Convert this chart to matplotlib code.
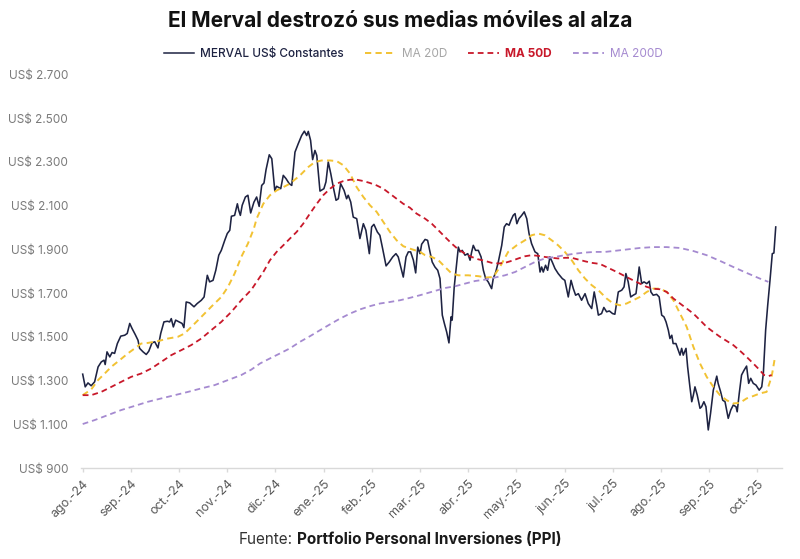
import matplotlib
matplotlib.use("Agg")
import matplotlib.pyplot as plt
from matplotlib.lines import Line2D
from matplotlib.ticker import FuncFormatter
import numpy as np

plt.rcParams['font.family'] = ['Inter', 'DejaVu Sans']

# ---------------- data ----------------
tick_labels = ["ago.-24", "sep.-24", "oct.-24", "nov.-24", "dic.-24", "ene.-25",
               "feb.-25", "mar.-25", "abr.-25", "may.-25", "jun.-25", "jul.-25",
               "ago.-25", "sep.-25", "oct.-25"]
days_per_tick = 21  # trading days between labelled ticks

merval_day = [
    0, 1.1, 2.3, 3.7, 5.2, 6.7, 8.1, 9.3, 9.8, 10.6,
    11.8, 12.8, 13.9, 15.1, 16.6, 18.3, 19.4, 20.5, 21.5, 22.9,
    24.1, 24.8, 26.3, 27.7, 28.8, 30.2, 31.4, 32.8, 34.0, 35.4,
    36.9, 37.9, 38.6, 39.5, 40.5, 42.0, 43.3, 44.1, 45.1, 46.6,
    48.5, 49.9, 51.7, 52.9, 54.3, 55.3, 56.8, 58.0, 59.3, 60.4,
    61.9, 63.0, 64.1, 64.8, 66.2, 67.4, 68.0, 68.7, 69.5, 70.9,
    72.0, 73.2, 74.6, 75.8, 76.9, 78.0, 79.0, 79.9, 81.3, 82.4,
    83.7, 84.5, 86.3, 87.4, 88.6, 90.0, 91.1, 92.5, 93.9, 95.4,
    96.6, 97.6, 98.3, 99.3, 100.2, 101.2, 102.0, 103.4, 105.1, 106.0,
    107.0, 108.1, 109.2, 110.4, 111.4, 112.4, 113.9, 115.0, 115.7, 116.8,
    117.9, 119.4, 120.8, 122.3, 123.4, 124.9, 125.9, 126.9, 128.4, 129.5,
    130.7, 132.2, 133.6, 135.1, 136.5, 137.5, 138.6, 139.7, 140.9, 141.9,
    142.9, 144.1, 145.1, 146.0, 147.0, 147.7, 149.2, 150.3, 151.3, 152.3,
    153.5, 154.7, 155.7, 156.7, 157.6, 158.6, 159.6, 160.5, 161.0, 161.9,
    162.9, 163.7, 164.4, 165.4, 166.6, 167.8, 168.8, 169.5, 170.2, 171.2,
    172.4, 173.6, 174.6, 175.6, 176.7, 178.2, 178.9, 180.0, 181.1, 182.6,
    183.7, 184.7, 185.8, 186.6, 187.6, 188.4, 189.2, 190.1, 191.3, 192.4,
    193.5, 194.5, 195.6, 197.1, 198.3, 199.3, 200.0, 200.7, 201.7, 202.6,
    203.6, 204.6, 205.8, 207.2, 209.0, 210.1, 211.6, 212.8, 213.8, 214.8,
    216.0, 217.4, 218.9, 220.3, 221.8, 222.9, 224.0, 224.7, 226.1, 227.1,
    228.3, 229.5, 230.9, 231.9, 233.4, 234.9, 235.9, 236.7, 237.7, 238.8,
    239.9, 241.1, 242.1, 242.5, 243.6, 244.6, 245.8, 246.9, 247.6, 248.6,
    250.1, 251.2, 252.3, 253.3, 254.2, 255.2, 255.9, 256.7, 257.3, 258.5,
    259.5, 260.3, 261.0, 261.7, 262.9, 263.6, 264.6, 265.4, 266.1, 266.8,
    267.8, 269.0, 269.7, 270.7, 271.6, 272.6, 273.6, 274.8, 276.3, 276.9,
    278.0, 278.9, 279.9, 281.3, 282.4, 283.5, 284.7, 285.2, 286.1, 287.1,
    288.2, 289.3, 290.2, 291.1, 292.2, 293.4, 294.8, 295.9, 296.6, 297.6,
    298.5, 299.5, 300.5, 301.2, 302.0]
merval_usd = [
    1329, 1271, 1289, 1276, 1294, 1362, 1385, 1393, 1373, 1431,
    1408, 1428, 1424, 1469, 1503, 1507, 1515, 1561, 1538, 1510,
    1484, 1447, 1431, 1419, 1434, 1472, 1477, 1449, 1515, 1568,
    1571, 1568, 1583, 1545, 1576, 1568, 1561, 1542, 1659, 1655,
    1637, 1652, 1667, 1682, 1781, 1751, 1758, 1804, 1873, 1895,
    1941, 1972, 1987, 2051, 2055, 2108, 2078, 2055, 2101, 2139,
    2147, 2066, 2115, 2139, 2096, 2192, 2203, 2264, 2332, 2314,
    2169, 2188, 2177, 2238, 2223, 2200, 2192, 2344, 2382, 2420,
    2440, 2420, 2439, 2398, 2310, 2352, 2329, 2166, 2177, 2208,
    2299, 2246, 2184, 2124, 2131, 2200, 2169, 2131, 2147, 2116,
    2047, 2040, 1949, 2017, 1987, 1880, 2002, 2014, 1979, 1964,
    1903, 1824, 1842, 1865, 1880, 1865, 1819, 1773, 1865, 1888,
    1888, 1850, 1792, 1910, 1880, 1923, 1945, 1941, 1890, 1842,
    1819, 1804, 1766, 1599, 1561, 1522, 1472, 1591, 1576, 1728,
    1827, 1910, 1888, 1895, 1873, 1880, 1850, 1888, 1918, 1895,
    1895, 1865, 1804, 1766, 1751, 1720, 1766, 1796, 1842, 1918,
    2002, 2017, 2010, 2032, 2055, 2063, 2017, 2040, 2055, 2071,
    2040, 1972, 1926, 1888, 1880, 1796, 1819, 1796, 1827, 1804,
    1865, 1842, 1812, 1789, 1766, 1758, 1682, 1758, 1720, 1690,
    1697, 1667, 1697, 1652, 1629, 1705, 1644, 1599, 1606, 1634,
    1614, 1618, 1606, 1603, 1705, 1713, 1728, 1789, 1751, 1682,
    1690, 1697, 1781, 1819, 1743, 1751, 1743, 1754, 1705, 1690,
    1694, 1682, 1599, 1591, 1568, 1530, 1492, 1507, 1469, 1469,
    1439, 1416, 1447, 1416, 1447, 1363, 1271, 1203, 1233, 1271,
    1233, 1173, 1180, 1203, 1180, 1074, 1150, 1256, 1320, 1287,
    1248, 1210, 1203, 1127, 1165, 1188, 1180, 1157, 1241, 1325,
    1347, 1366, 1287, 1310, 1287, 1279, 1256, 1271, 1332, 1530,
    1644, 1758, 1880, 1883, 2002]

ma20_day = [
    0, 3.7, 6.7, 9.6, 12.5, 16.1, 19.7, 22.7, 25.5, 28.5,
    32.8, 37.2, 41.5, 44.4, 48.1, 51.7, 56.0, 60.4, 63.3, 66.2,
    69.1, 72.0, 74.6, 75.8, 78.7, 81.6, 84.5, 87.4, 90.3, 94.7,
    98.3, 101.2, 104.1, 107.8, 110.7, 113.6, 116.5, 119.4, 122.3, 125.2,
    128.1, 131.0, 133.9, 136.8, 139.7, 142.6, 147.0, 149.2, 152.1, 155.0,
    157.9, 160.8, 163.7, 168.0, 172.4, 176.0, 178.9, 181.8, 185.4, 189.1,
    192.7, 195.6, 198.5, 201.4, 204.4, 207.2, 210.1, 213.1, 216.0, 218.9,
    221.8, 224.7, 228.3, 231.2, 234.1, 237.0, 239.9, 242.8, 245.8, 248.6,
    251.6, 254.5, 257.4, 260.3, 263.2, 266.1, 269.0, 271.9, 274.8, 277.7,
    280.6, 283.5, 286.4, 289.3, 292.2, 295.1, 298.0, 300.2, 301.7]
ma20_usd = [
    1233, 1259, 1302, 1332, 1363, 1393, 1424, 1447, 1469, 1472,
    1480, 1492, 1500, 1515, 1553, 1591, 1637, 1682, 1728, 1789,
    1865, 1926, 1995, 2040, 2108, 2147, 2169, 2184, 2200, 2238,
    2276, 2299, 2306, 2306, 2303, 2284, 2246, 2184, 2139, 2101,
    2071, 2025, 1979, 1941, 1914, 1903, 1888, 1873, 1865, 1850,
    1819, 1789, 1781, 1781, 1777, 1771, 1773, 1819, 1888, 1918,
    1941, 1964, 1972, 1964, 1941, 1918, 1888, 1850, 1804, 1766,
    1736, 1713, 1675, 1652, 1644, 1652, 1667, 1682, 1705, 1720,
    1720, 1705, 1667, 1606, 1545, 1454, 1378, 1317, 1271, 1233,
    1210, 1195, 1198, 1218, 1229, 1241, 1248, 1317, 1408]

ma50_day = [
    0, 3.7, 8.1, 12.5, 16.8, 21.2, 25.5, 29.9, 34.2, 38.6,
    43.0, 47.3, 51.7, 56.0, 60.4, 64.8, 69.1, 73.5, 75.8, 78.7,
    81.6, 84.5, 87.4, 90.3, 93.2, 96.1, 99.0, 102.0, 104.8, 107.8,
    110.7, 113.6, 116.5, 119.4, 122.3, 125.2, 128.1, 131.0, 133.9, 136.8,
    139.7, 142.6, 145.5, 149.2, 152.1, 155.0, 157.9, 160.8, 163.7, 166.6,
    169.5, 172.4, 175.3, 178.2, 181.1, 184.0, 186.9, 189.8, 192.7, 195.6,
    198.5, 201.4, 204.4, 207.2, 210.1, 213.1, 216.0, 218.9, 221.8, 225.4,
    227.6, 231.2, 234.1, 237.0, 239.9, 242.8, 245.8, 248.6, 251.6, 254.5,
    257.4, 260.3, 263.2, 266.1, 269.0, 271.9, 274.8, 277.7, 280.6, 283.5,
    286.4, 289.3, 292.2, 295.1, 296.9, 298.8, 300.2]
ma50_usd = [
    1233, 1233, 1248, 1271, 1294, 1317, 1332, 1355, 1385, 1416,
    1439, 1462, 1492, 1530, 1568, 1614, 1667, 1715, 1751, 1796,
    1850, 1888, 1918, 1949, 1979, 2017, 2063, 2108, 2147, 2177,
    2200, 2212, 2218, 2218, 2212, 2203, 2192, 2177, 2154, 2131,
    2108, 2090, 2063, 2040, 2017, 1987, 1956, 1926, 1899, 1880,
    1865, 1854, 1847, 1838, 1835, 1838, 1847, 1858, 1868, 1873,
    1870, 1865, 1861, 1858, 1861, 1861, 1853, 1845, 1838, 1833,
    1822, 1804, 1789, 1773, 1758, 1743, 1728, 1720, 1717, 1705,
    1675, 1652, 1629, 1606, 1576, 1545, 1522, 1500, 1481, 1462,
    1436, 1408, 1378, 1347, 1325, 1320, 1325]

ma200_day = [
    0, 5.2, 11.0, 16.8, 22.7, 28.5, 34.2, 40.1, 45.9, 51.7,
    57.5, 63.3, 69.1, 73.5, 77.3, 81.6, 86.0, 90.3, 94.7, 99.1,
    103.4, 107.8, 112.1, 116.5, 120.8, 125.2, 129.5, 133.9, 138.3, 142.6,
    147.0, 151.3, 157.9, 162.3, 166.6, 171.0, 175.3, 179.7, 184.0, 188.4,
    192.7, 197.1, 201.4, 205.8, 210.1, 214.5, 218.9, 223.3, 227.6, 231.2,
    237.0, 242.8, 248.6, 254.5, 260.3, 266.1, 271.9, 277.7, 283.5, 289.3,
    295.1, 298.8]
ma200_usd = [
    1101, 1119, 1142, 1165, 1184, 1203, 1218, 1233, 1248, 1264,
    1279, 1302, 1325, 1350, 1378, 1401, 1424, 1447, 1477, 1503,
    1530, 1557, 1583, 1606, 1625, 1640, 1652, 1659, 1667, 1678,
    1690, 1703, 1723, 1731, 1743, 1755, 1761, 1771, 1781, 1796,
    1819, 1842, 1858, 1865, 1873, 1880, 1885, 1888, 1888, 1892,
    1899, 1906, 1910, 1910, 1906, 1892, 1873, 1847, 1819, 1792,
    1766, 1751]

series_labels = ["MERVAL US$ Constantes", "MA 20D", "MA 50D", "MA 200D"]
title = "El Merval destrozó sus medias móviles al alza"

# ---------------- styling ----------------
c_merval = '#1e2342'
c_ma20 = '#f2c233'
c_ma50 = '#c8182a'
c_ma200 = '#a58ad0'
dash = (0, (3.2, 2.2))

W, H = 800, 559
fig = plt.figure(figsize=(W / 100, H / 100), dpi=100)
fig.patch.set_facecolor('white')

ax_left, ax_right = 80.7 / W, 781.7 / W
ax_bottom, ax_top = 1 - 468 / H, 1 - 74.3 / H
ax = fig.add_axes([ax_left, ax_bottom, ax_right - ax_left, ax_top - ax_bottom])

ax.plot(merval_day, merval_usd, color=c_merval, lw=1.15, zorder=3)
ax.plot(ma20_day, ma20_usd, color=c_ma20, lw=1.4, ls=dash, zorder=4)
ax.plot(ma50_day, ma50_usd, color=c_ma50, lw=1.3, ls=dash, zorder=5)
ax.plot(ma200_day, ma200_usd, color=c_ma200, lw=1.3, ls=dash, zorder=6)

ax.set_ylim(900, 2700)
ax.set_yticks(np.arange(900, 2701, 200))
ax.yaxis.set_major_formatter(FuncFormatter(lambda v, p: "US$ " + f"{v:,.0f}".replace(",", ".")))
ax.set_xlim(-0.87, 304.6)
ax.set_xticks(np.arange(len(tick_labels)) * days_per_tick)
ax.set_xticklabels(tick_labels, rotation=45, ha='right', va='top', rotation_mode='anchor')

for s in ['top', 'right', 'left']:
    ax.spines[s].set_visible(False)
ax.spines['bottom'].set_color('#d9d9d9')
ax.spines['bottom'].set_linewidth(1.0)
ax.tick_params(axis='y', length=0, pad=9, labelsize=8.5, labelcolor='#7a7a7a')
ax.tick_params(axis='x', length=3, width=1, color='#d9d9d9', pad=4, labelsize=9,
               labelcolor='#595959')

# title
fig.text(0.5, 1 - 21 / H, title, ha='center', va='center', fontsize=15,
         fontweight='bold', color='#111111')

# legend
handles = [Line2D([], [], color=c_merval, lw=1.1),
           Line2D([], [], color=c_ma20, lw=1.4, ls=dash),
           Line2D([], [], color=c_ma50, lw=1.3, ls=dash),
           Line2D([], [], color=c_ma200, lw=1.3, ls=dash)]
leg = fig.legend(handles, series_labels, loc='center', bbox_to_anchor=(413 / W, 1 - 54 / H),
                 ncol=4, frameon=False, fontsize=8.5, handlelength=2.6,
                 handletextpad=0.5, columnspacing=1.8)
text_colors = ['#1e2342', '#a6a6a6', '#c8182a', '#a58ad0']
for t, c in zip(leg.get_texts(), text_colors):
    t.set_color(c)
leg.get_texts()[0].set_fontweight('medium')
leg.get_texts()[2].set_fontweight('bold')

# footer
fy = 1 - 540 / H
t1 = fig.text(0, fy, "Fuente:", fontsize=11, color='#333333', va='center', ha='left')
t2 = fig.text(0, fy, "Portfolio Personal Inversiones (PPI)", fontsize=11,
              fontweight='bold', color='#1a1a1a', va='center', ha='left')
fig.canvas.draw()
r = fig.canvas.get_renderer()
w1 = t1.get_window_extent(r).width
w2 = t2.get_window_extent(r).width
gap = 4
x0 = (W - (w1 + gap + w2)) / 2
t1.set_x(x0 / W)
t2.set_x((x0 + w1 + gap) / W)

fig.savefig("out.png", dpi=100, facecolor='white')
